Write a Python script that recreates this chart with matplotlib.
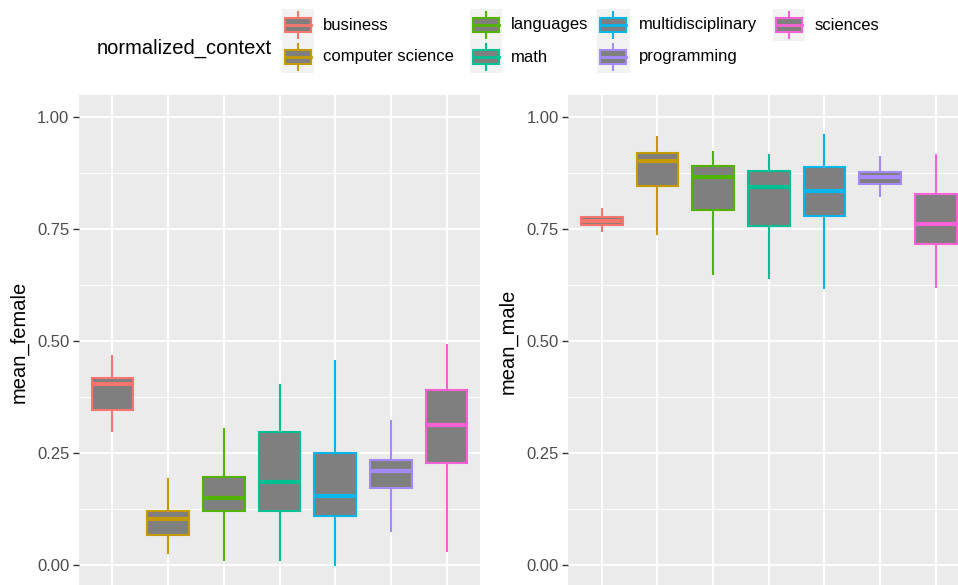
import matplotlib
matplotlib.use("Agg")
import matplotlib.pyplot as plt
from matplotlib.patches import Rectangle
from matplotlib.lines import Line2D

categories = ["business", "computer science", "languages", "math",
              "multidisciplinary", "programming", "sciences"]
colors = ["#F8766D", "#C49A00", "#53B400", "#00C094", "#00B6EB", "#A58AFF", "#FB61D7"]

# five-number summaries: whisker low, q1, median, q3, whisker high
female_wlo = [0.299, 0.027, 0.011, 0.013, 0.000, 0.077, 0.033]
female_q1  = [0.347, 0.067, 0.122, 0.122, 0.111, 0.172, 0.228]
female_med = [0.406, 0.103, 0.151, 0.186, 0.156, 0.210, 0.314]
female_q3  = [0.418, 0.122, 0.198, 0.297, 0.250, 0.236, 0.392]
female_whi = [0.467, 0.192, 0.305, 0.403, 0.456, 0.322, 0.493]

male_wlo = [0.746, 0.739, 0.650, 0.642, 0.619, 0.825, 0.621]
male_q1  = [0.760, 0.846, 0.793, 0.757, 0.780, 0.852, 0.717]
male_med = [0.769, 0.903, 0.867, 0.844, 0.836, 0.867, 0.763]
male_q3  = [0.777, 0.921, 0.891, 0.880, 0.889, 0.878, 0.829]
male_whi = [0.795, 0.956, 0.923, 0.916, 0.961, 0.911, 0.916]

yticks = [0.0, 0.25, 0.5, 0.75, 1.0]
ytick_labels = ["0.00", "0.25", "0.50", "0.75", "1.00"]

W, H = 958, 585
fig = plt.figure(figsize=(W / 100, H / 100), dpi=100)
fig.patch.set_facecolor("white")
plt.rcParams["font.family"] = ["Liberation Sans", "DejaVu Sans"]

BOX_FILL = "#7F7F7F"
PANEL_BG = "#EBEBEB"


def px_axes(left, top, width, height):
    return fig.add_axes([left / W, 1 - (top + height) / H, width / W, height / H])


def draw_panel(ax, wlo, q1, med, q3, whi, ylabel):
    ax.set_facecolor(PANEL_BG)
    for s in ax.spines.values():
        s.set_visible(False)
    ax.set_ylim(-0.05, 1.05)
    ax.set_xlim(0.4, len(categories) + 0.6)
    for v in [0.125, 0.375, 0.625, 0.875]:
        ax.axhline(v, color="white", lw=0.7, zorder=0)
    for v in yticks:
        ax.axhline(v, color="white", lw=1.4, zorder=0)
    for i in range(len(categories)):
        ax.axvline(i + 1, color="white", lw=1.4, zorder=0)
    stats = []
    for i in range(len(categories)):
        stats.append(dict(whislo=wlo[i], q1=q1[i], med=med[i], q3=q3[i],
                          whishi=whi[i], fliers=[]))
    for i, st in enumerate(stats):
        c = colors[i]
        ax.bxp([st], positions=[i + 1], widths=0.75, patch_artist=True,
               showcaps=False, showfliers=False,
               boxprops=dict(facecolor=BOX_FILL, edgecolor=c, linewidth=1.5),
               whiskerprops=dict(color=c, linewidth=1.5),
               medianprops=dict(color=c, linewidth=3.0, solid_capstyle="butt"),
               zorder=3)
    ax.set_xticks([])
    ax.set_yticks(yticks)
    ax.set_yticklabels(ytick_labels)
    ax.tick_params(axis="y", length=4, width=1.0, color="#333333",
                   labelcolor="#4D4D4D", labelsize=12, pad=3)
    ax.set_ylabel(ylabel, fontsize=14.5, color="black", labelpad=6)


ax1 = px_axes(79, 95, 401, 492.8)
draw_panel(ax1, female_wlo, female_q1, female_med, female_q3, female_whi, "mean_female")
ax2 = px_axes(568.3, 95, 401, 492.8)
draw_panel(ax2, male_wlo, male_q1, male_med, male_q3, male_whi, "mean_male")

# legend
fig.text(97 / W, 1 - 48 / H, "normalized_context", fontsize=14.5, va="center", ha="left")
col_key_x = [281.7, 469.5, 597, 773]
row_y = [9, 41]
key_w, key_h = 32.5, 32
for i, (cat, c) in enumerate(zip(categories, colors)):
    col, row = i // 2, i % 2
    kx, ky = col_key_x[col], row_y[row]
    lax = px_axes(kx, ky, key_w, key_h)
    lax.set_xlim(0, 1)
    lax.set_ylim(0, 1)
    lax.axis("off")
    lax.add_patch(Rectangle((0, 0), 1, 1, facecolor="#F2F2F2", edgecolor="none"))
    lax.add_line(Line2D([0.5, 0.5], [0.1, 0.9], color=c, lw=1.5))
    lax.add_patch(Rectangle((0.1, 0.27), 0.8, 0.46, facecolor=BOX_FILL, edgecolor=c, lw=1.5, zorder=3))
    lax.add_line(Line2D([0.1, 0.9], [0.5, 0.5], color=c, lw=2.0, zorder=4))
    fig.text((kx + key_w + 9) / W, 1 - (ky + key_h / 2) / H, cat, fontsize=12,
             va="center", ha="left", color="black")

fig.savefig("out.png", dpi=100, facecolor="white")
